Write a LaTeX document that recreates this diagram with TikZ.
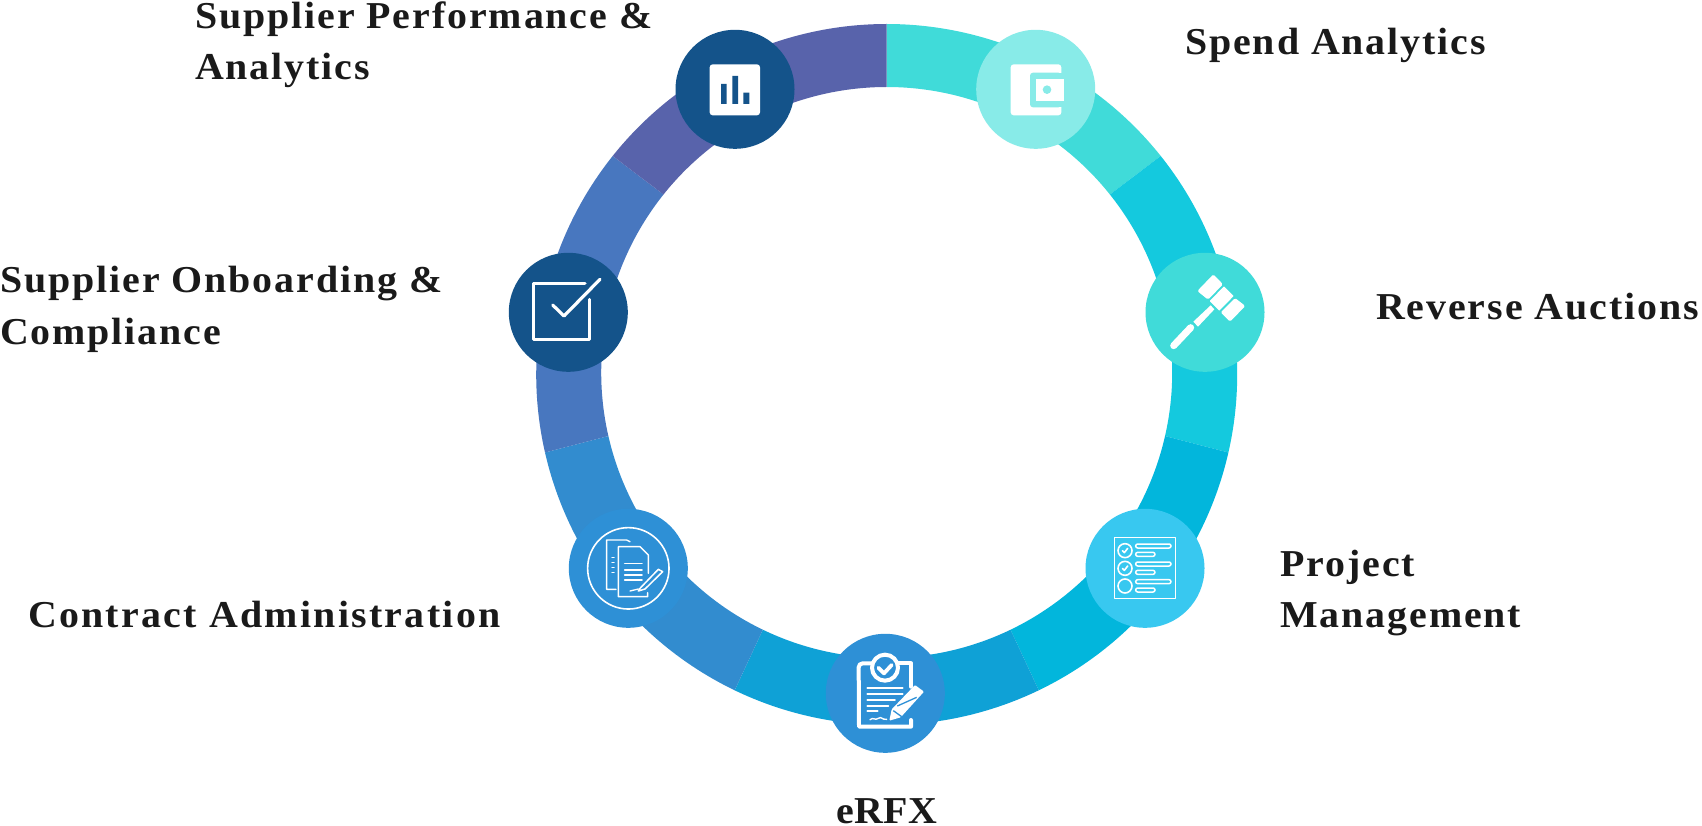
\documentclass[tikz,border=0pt]{standalone}
\usepackage{fontspec}
\setmainfont{Liberation Serif}[BoldFont={Liberation Serif Bold},LetterSpace=5,FakeStretch=1.05]
\definecolor{textc}{HTML}{1A1A1A}
\definecolor{segA}{HTML}{40DBD9}
\definecolor{segB}{HTML}{14C9DE}
\definecolor{segC}{HTML}{02B6DC}
\definecolor{segD}{HTML}{0FA1D6}
\definecolor{segE}{HTML}{328CCF}
\definecolor{segF}{HTML}{4877BF}
\definecolor{segG}{HTML}{5863AB}
\definecolor{dkblue}{HTML}{14538A}
\definecolor{ltteal}{HTML}{88EBE8}
\definecolor{skyc}{HTML}{38C8F0}
\definecolor{midblue}{HTML}{2E90D6}
\tikzset{
  hub/.style={circle,inner sep=0pt,minimum size=119pt},
  lab/.style={inner sep=0pt,anchor=base west,text=textc,font=\fontsize{38}{38}\selectfont\bfseries},
  ico/.style={white,line cap=round,line join=round},
  zoomed/.style={shift={#1},x=0.33333pt,y=-0.33333pt},
}
\newcommand{\ringseg}[3]{\fill[#1] (#2:350.5pt) arc[start angle=#2,end angle=#3,radius=350.5pt] -- ([yshift=2pt]#3:285.5pt) arc[start angle=#3,end angle=#2,radius=285.5pt] -- cycle;}
\begin{document}
\begin{tikzpicture}[x=1pt,y=-1pt]
\useasboundingbox (0,0) rectangle (1702,826);
\fill[white] (0,0) rectangle (1702,826);
\coordinate (c) at (886.7,374.5);
\begin{scope}[shift={(c)}]
\ringseg{segA}{90}{38.57}
\ringseg{segB}{38.57}{-12.86}
\ringseg{segC}{-12.86}{-64.29}
\ringseg{segD}{-64.29}{-115.71}
\ringseg{segE}{-115.71}{-167.14}
\ringseg{segF}{-167.14}{-218.57}
\ringseg{segG}{-218.57}{-270}
\end{scope}
\node[hub,fill=dkblue] (perf) at (735,89.3) {};
\node[hub,fill=ltteal] (spend) at (1035.7,89.3) {};
\node[hub,fill=dkblue] (onb) at (568.3,312.3) {};
\node[hub,fill=segA] (auct) at (1205,312.3) {};
\node[hub,fill=midblue] (contr) at (628.3,568.3) {};
\node[hub,fill=skyc] (proj) at (1145,568.3) {};
\node[hub,fill=midblue] (erfx) at (885.3,693.3) {};
% bar chart icon
\begin{scope}[zoomed={(640,0)}]
\fill[white,rounded corners=3pt] (209,193) rectangle (360,346);
\fill[dkblue] (243,252) rectangle (260,312) (277,228) rectangle (294,312) (310,278) rectangle (328,312);
\end{scope}
% wallet icon
\begin{scope}[zoomed={(640,0)}]
\fill[white,rounded corners=3pt] (1112,193) rectangle (1264,346);
\fill[ltteal,rounded corners=3pt] (1170,218) -- (1264,218) -- (1264,322) -- (1170,322) -- cycle;
\fill[ltteal] (1240,218) rectangle (1265,322);
\fill[white] (1187,236) rectangle (1272,302);
\fill[ltteal] (1221,269) circle[radius=4.3pt];
\end{scope}
% check icon
\begin{scope}[zoomed={(480,230)}]
\draw[ico,line width=3pt] (315,162) -- (160,162) -- (160,328) -- (328,328) -- (328,208);
\draw[ico,line width=3.2pt] (218,225) -- (252,258) -- (360,148);
\end{scope}
% gavel icon
\begin{scope}[zoomed={(1060,230)}]
\fill[white,rounded corners=1.5pt] (412,183) -- (460,133) -- (489,163) -- (444,209) -- cycle;
\fill[white,rounded corners=0.5pt] (449,213) -- (492,169) -- (521,198) -- (478,242) -- cycle;
\fill[white,rounded corners=1.5pt] (482,247) -- (525,204) -- (556,228) -- (510,275) -- cycle;
\draw[ico,line width=7pt] (341,347) -- (392,293);
\fill[white] (400,275) -- (452,226) -- (463,238) -- (414,290) -- cycle;
\end{scope}
% checklist icon
\begin{scope}[zoomed={(1070,490)}]
\draw[ico,line width=1.6pt] (133,143) rectangle (317,325);
\foreach \yy in {182,235,288} \draw[ico,line width=1.6pt] (165,\yy) circle[radius=7pt];
\foreach \yy in {168,222,275} \draw[ico,line width=1.5pt,rounded corners=2pt] (197,\yy-6) rectangle (303,\yy+6);
\foreach \yy in {193,247,300} \draw[ico,line width=1.5pt,rounded corners=2pt] (197,\yy-6) rectangle (255,\yy+6);
\foreach \yy in {182,235} \draw[ico,line width=1.6pt] (157,\yy) -- (163,\yy+6) -- (173,\yy-7);
\end{scope}
% documents icon
\begin{scope}[zoomed={(550,490)}]
\draw[ico,line width=1.6pt] (235,235) circle[radius=40.7pt];
\draw[ico,line width=1.4pt] (240,155) -- (230,150) -- (170,150) -- (170,298) -- (198,298);
\draw[ico,line width=1.4pt] (295,250) -- (295,195) -- (270,170) -- (205,170) -- (205,320) -- (293,320) -- (293,308);
\foreach \yy in {203,218,233,248} \draw[ico,line width=1.5pt] (186,\yy) -- (192,\yy);
\foreach \yy in {220,240,255,270} \draw[ico,line width=1.5pt] (224,\yy) -- (276,\yy);
\draw[ico,line width=1.5pt] (270,295) -- (325,238) -- (338,245) -- (285,297) -- (265,303) -- cycle;
\draw[ico,line width=1.3pt] (240,303) -- (265,297);
\end{scope}
% clipboard icon
\begin{scope}[zoomed={(780,620)}]
\draw[ico,line width=4pt] (280,130) -- (248,130) arc[start angle=90,end angle=180,radius=4pt] -- (237,320) -- (393,320) -- (393,300);
\draw[ico,line width=4pt] (352,130) -- (393,130) -- (393,200);
\draw[ico,line width=4pt,fill=midblue] (315,143) circle[radius=13pt];
\draw[ico,line width=3.8pt] (295,143) -- (312,160) -- (335,135);
\foreach \xa/\yy in {368/205,368/222,345/240,325/258,293/273} \draw[ico,line width=1.8pt] (262,\yy) -- (\xa,\yy);
\draw[ico,line width=1.4pt] (270,299) .. controls (280,290) and (285,303) .. (295,295) .. controls (305,288) and (305,300) .. (320,298);
\fill[white,rounded corners=1pt] (328,302) -- (335,268) -- (405,195) -- (432,215) -- (362,292) -- cycle;
\draw[midblue,line width=1.3pt] (340,272) -- (365,290);
\draw[midblue,line width=1.3pt] (352,258) -- (410,232);
\end{scope}
% labels
\node[lab] (t1) at (195,29) {Supplier Performance \&};
\node[lab] (t1b) at (195,80) {Analytics};
\node[lab] (t2) at (1185,55) {Spend Analytics};
\node[lab] (t3) at (1376,319) {Reverse Auctions};
\node[lab] (t4) at (1280,576) {Project};
\node[lab] (t4b) at (1280,627) {Management};
\node[lab,anchor=base] (t5) at (887,823.5) {\addfontfeatures{LetterSpace=1}eRFX};
\node[lab] (t6) at (28,627) {\addfontfeatures{LetterSpace=6}Contract Administration};
\node[lab] (t7) at (0,293) {Supplier Onboarding \&};
\node[lab] (t7b) at (0,344) {Compliance};
\end{tikzpicture}
\end{document}
